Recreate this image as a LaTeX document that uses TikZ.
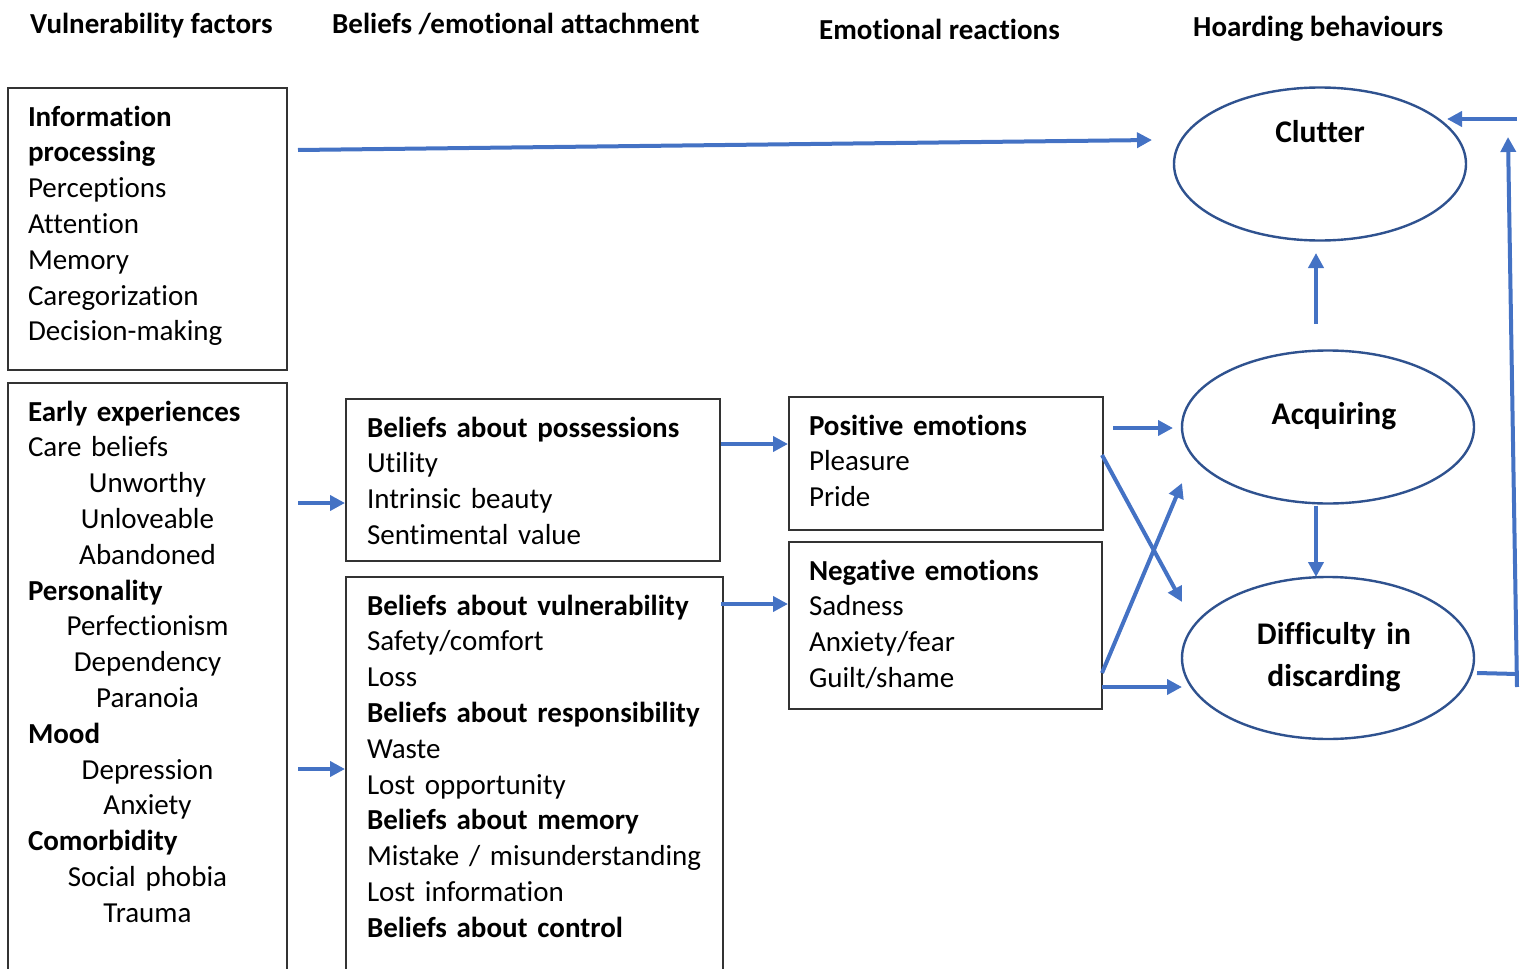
\documentclass[tikz,border=0pt]{standalone}
\usepackage{fontspec}
\setmainfont{Carlito}[Ligatures=NoCommon]
\usetikzlibrary{shapes.geometric,arrows.meta,calc}

\definecolor{flowblue}{HTML}{4472C4}
\definecolor{rimblue}{HTML}{2F528F}

\tikzset{
  box/.style={draw=black!80, line width=1.5pt, anchor=north west, align=left,
    inner xsep=20pt, inner ysep=0pt, outer sep=0pt, text height=38pt,
    font=\fontsize{29pt}{35.8pt}\selectfont},
  head/.style={anchor=base west, inner sep=0pt,
    font=\fontsize{29pt}{35.8pt}\selectfont\bfseries},
  behav/.style={ellipse, draw=rimblue, line width=2.4pt, minimum width=292pt,
    inner sep=0pt, outer sep=0pt, align=center,
    font=\fontsize{31.5pt}{42pt}\selectfont\bfseries},
  flow/.style={draw=flowblue, line width=4pt, -{Triangle[length=15pt,width=15pt]}},
  flowline/.style={draw=flowblue, line width=4pt},
}

% indented (centred) entries in a list box
\newcommand{\midline}[1]{\makebox[\linewidth]{#1}}

\begin{document}
\begin{tikzpicture}[x=1pt,y=-1pt]
\useasboundingbox (0,0) rectangle (1524,969);

% column titles
\node[head] (hdvuln) at (30,33) {Vulnerability factors};
\node[head] (hdbel) at (332,33) {Beliefs /emotional attachment};
\node[head] (hdemo) at (819,39) {Emotional reactions};
\node[head] (hdhoard) at (1193,36) {Hoarding behaviours};

% vulnerability factors
\node[box, text width=239pt, text depth=244pt] (infobox) at (8,88)
  {\textbf{Information}\\ \textbf{processing}\\ Perceptions\\ Attention\\
   Memory\\ Caregorization\\ Decision-making};
\node[box, text width=239pt, text depth=620pt] (earlybox) at (8,383)
  {\textbf{Early experiences}\\ Care beliefs\\ \midline{Unworthy}\\
   \midline{Unloveable}\\ \midline{Abandoned}\\ \textbf{Personality}\\
   \midline{Perfectionism}\\ \midline{Dependency}\\ \midline{Paranoia}\\
   \textbf{Mood}\\ \midline{Depression}\\ \midline{Anxiety}\\
   \textbf{Comorbidity}\\ \midline{Social phobia}\\ \midline{Trauma}};

% beliefs
\node[box, inner xsep=21pt, text width=332pt, text depth=124pt] (possbox) at (346,399)
  {\textbf{Beliefs about possessions}\\ Utility\\ Intrinsic beauty\\ Sentimental value};
\node[box, inner xsep=21pt, text width=335pt, text depth=450pt] (vulnbox) at (346,577)
  {\textbf{Beliefs about vulnerability}\\ Safety/comfort\\ Loss\\
   \textbf{Beliefs about responsibility}\\ Waste\\ Lost opportunity\\
   \textbf{Beliefs about memory}\\ Mistake / misunderstanding\\ Lost information\\
   \textbf{Beliefs about control}};

% emotions
\node[box, text width=274pt, text depth=95pt] (posbox) at (789,397)
  {\textbf{Positive emotions}\\ Pleasure\\ Pride};
\node[box, text width=273pt, text depth=129pt] (negbox) at (789,542)
  {\textbf{Negative emotions}\\ Sadness\\ Anxiety/fear\\ Guilt/shame};

% behaviours
\node[behav, minimum height=153pt, text height=22pt, text depth=66pt] (clutter) at (1320,164) {Clutter};
\node[behav, minimum height=153pt, text height=22pt, text depth=28pt] (acquiring) at (1328,427) {\hspace*{12pt}Acquiring};
\node[behav, minimum height=162pt, text width=200pt, text height=24pt, text depth=52pt] (discard) at (1328,658)
  {\hspace*{12pt}Difficulty in\\ \hspace*{12pt}discarding};

% arrows
\draw[flow] ($(infobox.north east)+(11,62)$) -- ($(clutter.west)+(-22,-24)$);
\draw[flow] ($(earlybox.north east)+(11,120)$) -- ($(possbox.north west)+(-1,104)$);
\draw[flow] ($(earlybox.north east)+(11,386)$) -- ($(vulnbox.north west)+(-1,192)$);
\draw[flow] ($(possbox.north east)+(1,45)$) -- ($(posbox.north west)+(-1,47)$);
\draw[flow] ($(vulnbox.north east)+(-2,27)$) -- ($(negbox.north west)+(-1,62)$);
\draw[flow] ($(posbox.north east)+(10,31)$) -- ($(acquiring.west)+(-9,1)$);
\draw[flow] ($(posbox.north east)+(-1,58)$) -- ($(discard.west)+(0,-56)$);
\draw[flow] ($(negbox.north east)+(0,131)$) -- ($(acquiring.west)+(0,56)$);
\draw[flow] ($(negbox.north east)+(0,145)$) -- ($(discard.west)+(0,29)$);
\draw[flow] ($(acquiring.south)+(-12,2)$) -- ($(discard.north)+(-12,0)$);
\draw[flow] ($(acquiring.north)+(-12,-27)$) -- ($(clutter.south)+(-4,12.5)$);

% feedback from discarding back to clutter
\coordinate (corner) at ($(discard.east)+(43,16)$);
\draw[flowline] ($(discard.east)+(3,15)$) -- (corner);
\draw[flow] ($(corner)+(0,13)$) -- ($(clutter.east)+(42,-27)$);
\draw[flow] ($(clutter.east)+(51,-45)$) -- ($(clutter.east)+(-19,-45)$);
\end{tikzpicture}
\end{document}
